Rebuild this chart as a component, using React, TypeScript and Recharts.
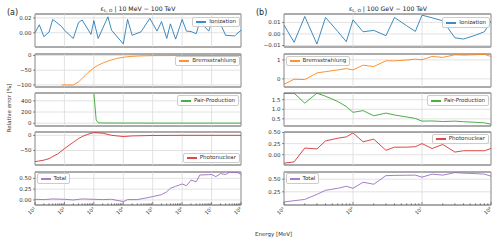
import { LineChart, Line, XAxis, YAxis, CartesianGrid, ReferenceLine, ReferenceArea, Legend } from "recharts"

const FONT = "DejaVu Sans, sans-serif"

// (a) 10 MeV - 100 TeV, energies in MeV
const ionEnergyA = [10, 14, 20, 30, 40, 80, 100, 200, 300, 400, 800, 1e3, 1.4e3, 3e3, 4e3, 1e4, 1.4e4, 2e4, 4e4, 8e4, 1.4e5, 2e5, 3e5, 4e5, 6e5, 1e6, 1.4e6, 2e6, 3e6, 4e6, 8e6, 1e7, 2e7, 3e7, 6e7, 1e8]
const ionA = [0.0, 0.0108, -0.0052, 0.0009, 0.018, 0.0086, 0.0034, -0.0077, 0.0138, 0.0172, -0.0022, 0.0163, -0.0077, 0.0215, 0.0034, -0.015, 0.018, -0.0034, 0.0013, 0.0194, 0.0022, 0.015, -0.0077, 0.012, -0.0086, 0.018, 0.0022, 0.0017, -0.0013, 0.015, 0.0022, 0.0138, 0.012, -0.0034, -0.0043, 0.0034]

const bremsEnergyA = [80, 200, 300, 400, 600, 800, 1e3, 1.4e3, 2e3, 3e3, 4e3, 6e3, 1e4, 2e4, 4e4, 1e5, 1e6, 1e8]
const bremsA = [-100, -100, -90, -78, -60, -50, -42, -33, -26, -19, -15, -10, -6, -3, -1.5, -0.5, -0.2, 0]

const pairEnergyA = [1e3, 1.2e3, 1.4e3, 2e3, 1e4, 1e5, 1e6, 1e7, 1e8]
const pairA = [535, 60, 8, 4, 3, 2, 2, 2, 2]

const photoEnergyA = [10, 20, 30, 40, 60, 100, 200, 300, 400, 600, 1e3, 2e3, 4e3, 1e4, 2e4, 1e5, 1e6, 1e8]
const photoA = [-87, -82, -77, -70, -61, -44, -23, -11, -4, 3, 9, 7, 0, -4, -2, -0.5, 0, 0]

const totalEnergyA = [10, 20, 40, 100, 200, 400, 1e3, 2e3, 4e3, 1e4, 1.4e4, 3e4, 6e4, 1e5, 2e5, 3e5, 4e5, 6e5, 8e5, 1e6, 1.4e6, 2e6, 3e6, 4e6, 8e6, 1e7, 1.4e7, 2e7, 3e7, 4e7, 8e7, 1e8]
const totalA = [0.015, 0.008, 0.023, 0.015, 0.0, 0.023, 0.015, 0.008, 0.015, -0.038, 0.008, 0.008, 0.046, 0.077, 0.123, 0.19, 0.27, 0.315, 0.346, 0.37, 0.33, 0.46, 0.42, 0.577, 0.585, 0.59, 0.54, 0.61, 0.59, 0.64, 0.63, 0.59]

// (b) 100 GeV - 100 TeV
const energyB = [1e5, 1.4e5, 2e5, 3e5, 4e5, 6e5, 8e5, 1e6, 1.4e6, 2e6, 3e6, 4e6, 6e6, 8e6, 1e7, 1.4e7, 2e7, 3e7, 4e7, 6e7, 8e7, 1e8]
const ionB = [0.0077, -0.0072, 0.0152, -0.0087, 0.0143, 0.0022, -0.0067, 0.0122, 0.0019, 0.0031, -0.0015, 0.0143, 0.0071, 0.0022, 0.0163, 0.014, 0.0114, -0.0033, -0.0044, -0.001, 0.0019, 0.0111]
const bremsB = [-0.29, -0.02, -0.04, 0.31, 0.38, 0.47, 0.54, 0.47, 0.72, 0.65, 0.95, 0.95, 0.99, 1.04, 1.01, 1.18, 1.13, 1.27, 1.25, 1.27, 1.29, 1.18]
const pairB = [1.82, 1.84, 1.32, 1.84, 1.68, 1.41, 1.14, 0.84, 0.93, 0.66, 0.8, 0.7, 0.6, 0.52, 0.38, 0.39, 0.36, 0.38, 0.35, 0.32, 0.29, 0.22]
const photoB = [-0.19, -0.16, 0.15, 0.13, 0.31, 0.37, 0.4, 0.49, 0.29, 0.35, 0.1, 0.17, 0.17, 0.18, 0.25, 0.14, 0.23, 0.06, 0.09, 0.09, 0.09, 0.14]
const totalB = [0.05, 0.075, 0.1, 0.2, 0.28, 0.32, 0.36, 0.32, 0.44, 0.4, 0.57, 0.575, 0.578, 0.58, 0.54, 0.6, 0.58, 0.63, 0.62, 0.61, 0.6, 0.56]

const COLORS = ["#1f77b4", "#ff7f0e", "#2ca02c", "#d62728", "#9467bd"]
const NAMES = ["Ionization", "Bremsstrahlung", "Pair-Production", "Photonuclear", "Total"]

const PANEL_TOPS = [14.3, 53.7, 93.1, 132.4, 171.7]
const PANEL_H = 33
const SUP = ["⁰", "¹", "²", "³", "⁴", "⁵", "⁶", "⁷", "⁸", "⁹"]

const logTicks = (lo: number, hi: number) => {
  const out: number[] = []
  for (let n = lo; n <= hi; n++) {
    for (let k = 1; k <= 9; k++) {
      if (n === hi && k > 1) break
      out.push(k * 10 ** n)
    }
  }
  return out
}
const decades = (lo: number, hi: number) => {
  const out: number[] = []
  for (let n = lo; n <= hi; n++) out.push(10 ** n)
  return out
}

const XTick = (props: any) => {
  const { x, y, payload, labels } = props
  const lg = Math.log10(payload.value)
  const major = Math.abs(lg - Math.round(lg)) < 1e-6
  return (
    <g>
      <line x1={x} x2={x} y1={y} y2={y - (major ? 3 : 1.8)} stroke="#444" strokeWidth={0.6} />
      {labels && major && (
        <text x={x + 1} y={y + 4} transform={`rotate(-45 ${x + 1} ${y + 4})`} textAnchor="end" fontSize={5} fill="#333" fontFamily={FONT}>
          10{SUP[Math.round(lg)]}
        </text>
      )}
    </g>
  )
}

const LegendBox = ({ payload }: any) => {
  const item = payload && payload[0]
  if (!item) return null
  return (
    <div style={{ display: "flex", alignItems: "center", gap: 3, padding: "1.5px 3px", background: "rgba(255,255,255,0.85)", border: "0.8px solid #ccc", borderRadius: 2, fontFamily: FONT, fontSize: 5.5, color: "#333", lineHeight: 1, whiteSpace: "nowrap" }}>
      <span style={{ display: "inline-block", width: 10, height: 1.6, background: item.color, opacity: 0.85 }} />
      <span>{item.value}</span>
    </div>
  )
}

type Panel = {
  energies: number[]
  values: number[]
  yDomain: [number, number]
  yTicks: number[]
  digits: number
  legend: { side: "left" | "right"; off: number; top: number }
}

const colA = {
  left: 0, yWidth: 35, lo: 1, hi: 8,
  panels: [
    { energies: ionEnergyA, values: ionA, yDomain: [-0.0192, 0.0253], yTicks: [0, 0.02], digits: 2, legend: { side: "right", off: 10, top: 17 } },
    { energies: bremsEnergyA, values: bremsA, yDomain: [-107, 5], yTicks: [-100, -50, 0], digits: 0, legend: { side: "right", off: 10, top: 56 } },
    { energies: pairEnergyA, values: pairA, yDomain: [-50, 540], yTicks: [0, 200, 400], digits: 0, legend: { side: "right", off: 11, top: 95.5 } },
    { energies: photoEnergyA, values: photoA, yDomain: [-98, 11], yTicks: [-50, 0], digits: 0, legend: { side: "right", off: 10, top: 153 } },
    { energies: totalEnergyA, values: totalA, yDomain: [-0.117, 0.647], yTicks: [0, 0.25, 0.5], digits: 2, legend: { side: "left", off: 36.5, top: 173.5 } },
  ] as Panel[],
}

const colB = {
  left: 250, yWidth: 34, lo: 5, hi: 8,
  panels: [
    { energies: energyB, values: ionB, yDomain: [-0.0113, 0.0173], yTicks: [-0.01, 0, 0.01], digits: 2, legend: { side: "right", off: 10, top: 17.5 } },
    { energies: energyB, values: bremsB, yDomain: [-0.43, 1.31], yTicks: [0, 1], digits: 0, legend: { side: "left", off: 35.5, top: 56 } },
    { energies: energyB, values: pairB, yDomain: [0.126, 1.85], yTicks: [0.5, 1, 1.5], digits: 1, legend: { side: "right", off: 11, top: 95.5 } },
    { energies: energyB, values: photoB, yDomain: [-0.23, 0.51], yTicks: [0, 0.25, 0.5], digits: 2, legend: { side: "right", off: 11, top: 134 } },
    { energies: energyB, values: totalB, yDomain: [-0.01, 0.642], yTicks: [0.25, 0.5], digits: 2, legend: { side: "left", off: 35.5, top: 173.5 } },
  ] as Panel[],
}

const fmt = (digits: number) => (v: number) => {
  const s = (Math.abs(v) < 1e-9 ? 0 : v).toFixed(digits)
  return s.replace("-", "\u2212")
}

function Column({ col }: { col: typeof colA }) {
  const xDomain = [10 ** col.lo, 10 ** col.hi]
  const ticks = logTicks(col.lo, col.hi)
  return (
    <>
      {col.panels.map((p, i) => {
        const bottom = i === col.panels.length - 1
        const chartTop = PANEL_TOPS[i] - 2
        const height = 2 + PANEL_H + (bottom ? 20 : 2)
        const data = p.energies.map((e, j) => ({ e, v: p.values[j] }))
        const lg = p.legend
        const legendPos =
          lg.side === "right"
            ? { left: "auto", right: lg.off, top: lg.top - chartTop }
            : { left: lg.off, right: "auto", top: lg.top - chartTop }
        return (
          <div key={i} style={{ position: "absolute", left: col.left, top: chartTop }}>
            <LineChart width={250} height={height} data={data} margin={{ top: 2, right: 9, bottom: bottom ? 0 : 2, left: 0 }}>
              <CartesianGrid vertical={false} stroke="#dadada" strokeWidth={0.8} />
              {decades(col.lo, col.hi).map((d) => (
                <ReferenceLine key={d} x={d} stroke="#dadada" strokeWidth={0.8} />
              ))}
              <XAxis
                dataKey="e"
                type="number"
                scale="log"
                domain={xDomain}
                allowDataOverflow
                ticks={ticks}
                interval={0}
                tickSize={0}
                tickMargin={0}
                tickLine={false}
                axisLine={false}
                height={bottom ? 20 : 0}
                tick={<XTick labels={bottom} />}
              />
              <YAxis
                type="number"
                domain={p.yDomain}
                allowDataOverflow
                ticks={p.yTicks}
                interval={0}
                width={col.yWidth}
                tickSize={2}
                tickMargin={1.5}
                tickLine={{ stroke: "#444", strokeWidth: 0.6 }}
                axisLine={false}
                tickFormatter={fmt(p.digits)}
                tick={{ fontSize: 5.5, fill: "#333", fontFamily: FONT }}
              />
              <Line
                type="linear"
                dataKey="v"
                name={NAMES[i]}
                stroke={COLORS[i]}
                strokeOpacity={0.85}
                strokeWidth={1}
                dot={false}
                isAnimationActive={false}
              />
              <ReferenceArea
                x1={xDomain[0]}
                x2={xDomain[1]}
                y1={p.yDomain[0]}
                y2={p.yDomain[1]}
                fill="none"
                stroke="#555"
                strokeWidth={0.9}
                ifOverflow="visible"
              />
              <Legend
                layout="horizontal"
                verticalAlign="middle"
                align="center"
                wrapperStyle={{ width: "auto", height: "auto", ...legendPos }}
                content={(props: any) => <LegendBox payload={props.payload} />}
              />
            </LineChart>
          </div>
        )
      })}
    </>
  )
}

export default function App() {
  return (
    <div style={{ position: "absolute", left: 0, top: 0, width: 500, height: 246, background: "#fff", fontFamily: FONT }}>
      <Column col={colA} />
      <Column col={colB} />
      <svg width={500} height={246} style={{ position: "absolute", left: 0, top: 0, pointerEvents: "none" }} fontFamily={FONT}>
        <text x={7} y={15} fontSize={8} fill="#222">(a)</text>
        <text x={256} y={15} fontSize={8} fill="#222">(b)</text>
        <text x={138} y={11} fontSize={6.2} fill="#222" textAnchor="middle">
          ε<tspan fontSize={4.3} dy={1.4}>L, O</tspan>
          <tspan dy={-1.4}> | 10 MeV − 100 TeV</tspan>
        </text>
        <text x={388} y={11} fontSize={6.2} fill="#222" textAnchor="middle">
          ε<tspan fontSize={4.3} dy={1.4}>L, O</tspan>
          <tspan dy={-1.4}> | 100 GeV − 100 TeV</tspan>
        </text>
        <text x={10.5} y={108} fontSize={5.5} fill="#333" textAnchor="middle" transform="rotate(-90 10.5 108)">
          Relative error [%]
        </text>
        <text x={255} y={236} fontSize={5.5} fill="#333">Energy [MeV]</text>
      </svg>
    </div>
  )
}
